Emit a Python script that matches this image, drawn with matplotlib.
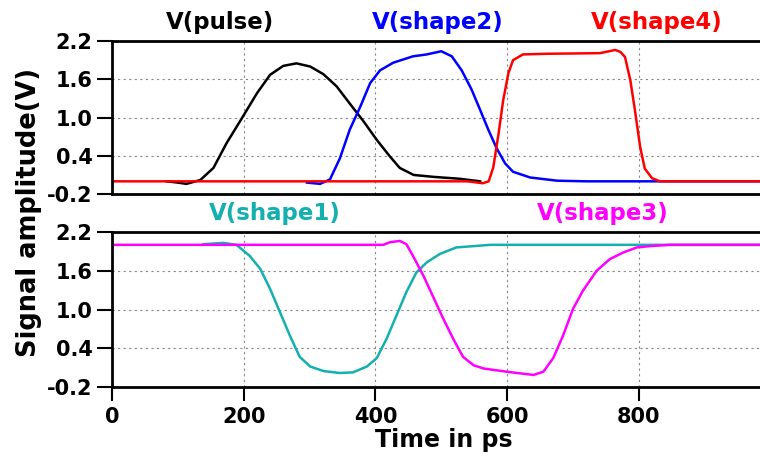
import matplotlib
matplotlib.use("Agg")
import matplotlib.pyplot as plt

plt.rcParams['font.family'] = ['DejaVu Sans']
plt.rcParams['font.weight'] = 'bold'
plt.rcParams['axes.unicode_minus'] = False

# time axis (ps) and signals
t_pulse = [83, 100, 113, 134, 154, 174, 199, 220, 240, 260, 280, 301, 321, 341, 361, 382, 402, 422, 437, 458, 488, 528, 559]
v_pulse = [0.0, -0.02, -0.04, 0.02, 0.21, 0.6, 1.02, 1.38, 1.67, 1.81, 1.85, 1.8, 1.68, 1.49, 1.22, 0.94, 0.65, 0.39, 0.21, 0.1, 0.07, 0.04, 0.0]

t_shape2 = [296, 316, 331, 346, 361, 377, 392, 407, 427, 457, 478, 500, 516, 531, 546, 559, 571, 584, 597, 609, 635, 676, 720, 984]
v_shape2 = [-0.02, -0.04, 0.03, 0.36, 0.81, 1.17, 1.54, 1.74, 1.86, 1.96, 1.99, 2.04, 1.96, 1.74, 1.44, 1.12, 0.82, 0.52, 0.28, 0.15, 0.06, 0.01, 0.0, 0.0]

t_shape4 = [0, 540, 563, 572, 579, 587, 594, 602, 609, 624, 660, 741, 755, 764, 772, 779, 787, 794, 802, 809, 820, 832, 984]
v_shape4 = [0.0, 0.0, -0.03, 0.0, 0.22, 0.75, 1.27, 1.7, 1.9, 1.99, 2.0, 2.01, 2.04, 2.06, 2.03, 1.95, 1.59, 1.12, 0.54, 0.2, 0.05, 0.0, 0.0]

t_shape1 = [139, 169, 189, 209, 225, 240, 255, 270, 285, 301, 321, 346, 366, 387, 402, 417, 432, 447, 462, 478, 498, 523, 549, 574, 984]
v_shape1 = [2.01, 2.03, 2.0, 1.83, 1.63, 1.32, 0.96, 0.6, 0.27, 0.12, 0.05, 0.02, 0.03, 0.12, 0.25, 0.55, 0.91, 1.27, 1.57, 1.73, 1.86, 1.96, 1.98, 2.0, 2.0]

t_shape3 = [0, 412, 422, 437, 447, 457, 473, 488, 503, 518, 533, 549, 564, 599, 640, 655, 670, 685, 700, 715, 736, 756, 776, 797, 817, 847, 984]
v_shape3 = [2.0, 2.0, 2.04, 2.06, 2.01, 1.83, 1.52, 1.19, 0.86, 0.55, 0.27, 0.14, 0.09, 0.04, -0.01, 0.04, 0.25, 0.6, 1.01, 1.29, 1.6, 1.78, 1.88, 1.96, 1.98, 2.0, 2.0]

y_ticks = [-0.2, 0.4, 1.0, 1.6, 2.2]
x_ticks = [0, 200, 400, 600, 800]

teal = '#14AFAF'

fig = plt.figure(figsize=(7.6, 4.61), dpi=100)
ax1 = fig.add_axes([0.1474, 0.579, 0.8526, 0.332])
ax2 = fig.add_axes([0.1474, 0.160, 0.8526, 0.337])


def style(ax, show_x):
    ax.set_xlim(0, 984)
    ax.set_ylim(-0.2, 2.2)
    ax.set_yticks(y_ticks)
    ax.set_yticklabels([f"{v:.1f}" for v in y_ticks])
    ax.set_xticks(x_ticks)
    ax.spines['right'].set_visible(False)
    for s in ['top', 'left', 'bottom']:
        ax.spines[s].set_linewidth(2)
    ax.grid(True, linestyle=(0, (2, 3)), color='#888888', linewidth=0.8)
    ax.tick_params(axis='y', length=11, width=1.5, labelsize=15, pad=3)
    if show_x:
        ax.tick_params(axis='x', length=10, width=1.5, labelsize=15, pad=4)
    else:
        ax.tick_params(axis='x', length=0, labelbottom=False)


style(ax1, False)
style(ax2, True)

ax1.plot(t_pulse, v_pulse, color='black', lw=1.8)
ax1.plot(t_shape2, v_shape2, color='#0000FF', lw=1.8)
ax1.plot(t_shape4, v_shape4, color='#FF0000', lw=1.8)

ax2.plot(t_shape1, v_shape1, color=teal, lw=1.8)
ax2.plot(t_shape3, v_shape3, color='#FF00FF', lw=1.8)

tfs = 16.5
fig.text(220 / 760, 1 - 22 / 461, 'V(pulse)', color='black', fontsize=tfs, ha='center', va='center')
fig.text(438 / 760, 1 - 22 / 461, 'V(shape2)', color='#0000FF', fontsize=tfs, ha='center', va='center')
fig.text(657 / 760, 1 - 22 / 461, 'V(shape4)', color='#FF0000', fontsize=tfs, ha='center', va='center')
fig.text(275 / 760, 1 - 213 / 461, 'V(shape1)', color=teal, fontsize=tfs, ha='center', va='center')
fig.text(603 / 760, 1 - 213 / 461, 'V(shape3)', color='#FF00FF', fontsize=tfs, ha='center', va='center')

fig.text(29 / 760, 1 - 212 / 461, 'Signal amplitude(V)', fontsize=18.5, rotation=90, ha='center', va='center')
fig.text(444 / 760, 1 - 447 / 461, 'Time in ps', fontsize=17, ha='center', va='baseline')

fig.savefig('out.png', dpi=100)
